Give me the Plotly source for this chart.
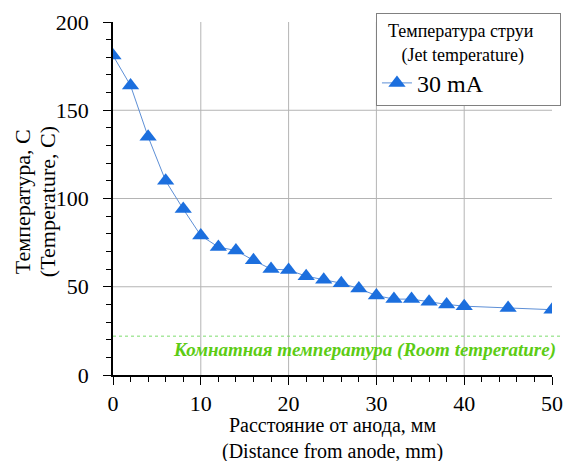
import plotly.graph_objects as go

# ---- data ----
distance_mm = [0, 2, 4, 6, 8, 10, 12, 14, 16, 18, 20, 22, 24, 26, 28, 30,
               32, 34, 36, 38, 40, 45, 50]
temperature_c = [181, 164, 135, 110, 94, 79, 72.5, 70.5, 65, 60, 59.5, 56,
                 54, 52, 49, 45, 43, 43, 41.5, 40, 39, 38, 37]
room_temp_c = 22
series_name = "30 mA"
legend_title_lines = ["Температура струи", "(Jet temperature)"]
room_label = "Комнатная температура (Room temperature)"
x_title_lines = ["Расстояние от анода, мм", "(Distance from anode, mm)"]
y_title_lines = ["Температура, C", "(Temperature, C)"]
x_ticks = [0, 10, 20, 30, 40, 50]
y_ticks = [0, 50, 100, 150, 200]

SERIF = "Liberation Serif, serif"
NB = "&nbsp;"

fig = go.Figure()
fig.add_trace(go.Scatter(
    x=distance_mm, y=temperature_c,
    name=series_name + NB * 12,
    mode="lines+markers",
    line=dict(color="#5d8fd6", width=1),
    marker=dict(symbol="triangle-up", size=15, color="#1c6fde",
                line=dict(width=0)),
    showlegend=True,
))

# interior grid lines (none on the top / right edges)
for xv in x_ticks[1:-1]:
    fig.add_shape(type="line", xref="x", yref="paper", x0=xv, x1=xv, y0=0, y1=1,
                  line=dict(color="#b4b4b4", width=1), layer="below")
for yv in y_ticks[1:-1]:
    fig.add_shape(type="line", xref="paper", yref="y", x0=0, x1=1, y0=yv, y1=yv,
                  line=dict(color="#b4b4b4", width=1), layer="below")

# room temperature reference line
fig.add_shape(type="line", xref="paper", yref="y", x0=0, x1=1.02,
              y0=room_temp_c, y1=room_temp_c,
              line=dict(color="#7ddc6e", width=1, dash="dot"))
fig.add_annotation(x=1.0137, xref="paper", y=room_temp_c, yref="y",
                   xanchor="right", yanchor="top", yshift=-1,
                   text="<b><i>" + room_label + "</i></b>", showarrow=False,
                   font=dict(family=SERIF, size=19, color="#5ccc14"))

# axis titles
fig.add_annotation(x=0.5, y=-0.181, xref="paper", yref="paper",
                   xanchor="center", yanchor="middle", showarrow=False,
                   text="<br>".join(x_title_lines),
                   font=dict(family=SERIF, size=20, color="black"))
title_font = dict(family=SERIF, size=22, color="black")
for txt, xx in zip(y_title_lines, [-0.207, -0.150]):
    fig.add_annotation(x=xx, y=0.49, xref="paper", yref="paper",
                       xanchor="center", yanchor="middle", showarrow=False,
                       textangle=-90, text=txt, font=title_font)

axis_common = dict(
    showline=True, linecolor="black", linewidth=1.5,
    ticks="outside", ticklen=8, tickcolor="black", tickwidth=1,
    showgrid=False, zeroline=False,
    tickfont=dict(family=SERIF, size=22, color="black"),
)

fig.update_xaxes(range=[0, 50], tickvals=x_ticks, ticklabelstandoff=0,
                 minor=dict(dtick=2, ticks="outside", ticklen=5,
                            tickcolor="black", showgrid=False),
                 **axis_common)
fig.update_yaxes(range=[0, 200], tickvals=y_ticks, ticklabelstandoff=10,
                 minor=dict(dtick=10, ticks="outside", ticklen=5,
                            tickcolor="black", showgrid=False),
                 **axis_common)

fig.update_layout(
    width=566, height=461,
    margin=dict(l=113, r=14, t=22, b=86, autoexpand=False),
    paper_bgcolor="white", plot_bgcolor="white",
    font=dict(family=SERIF, color="black"),
    legend=dict(
        x=0.599, y=1.0255, xanchor="left", yanchor="top",
        bgcolor="white", bordercolor="#808080", borderwidth=1,
        title=dict(text=NB * 2 + legend_title_lines[0] + "<br>" + NB * 5
                   + legend_title_lines[1],
                   font=dict(family=SERIF, size=18, color="black")),
        font=dict(family=SERIF, size=24, color="black"),
        tracegroupgap=0,
    ),
)

fig.write_html("out.html", config={"displayModeBar": False},
               post_script="document.body.style.margin='0px';document.body.style.overflow='hidden';")
